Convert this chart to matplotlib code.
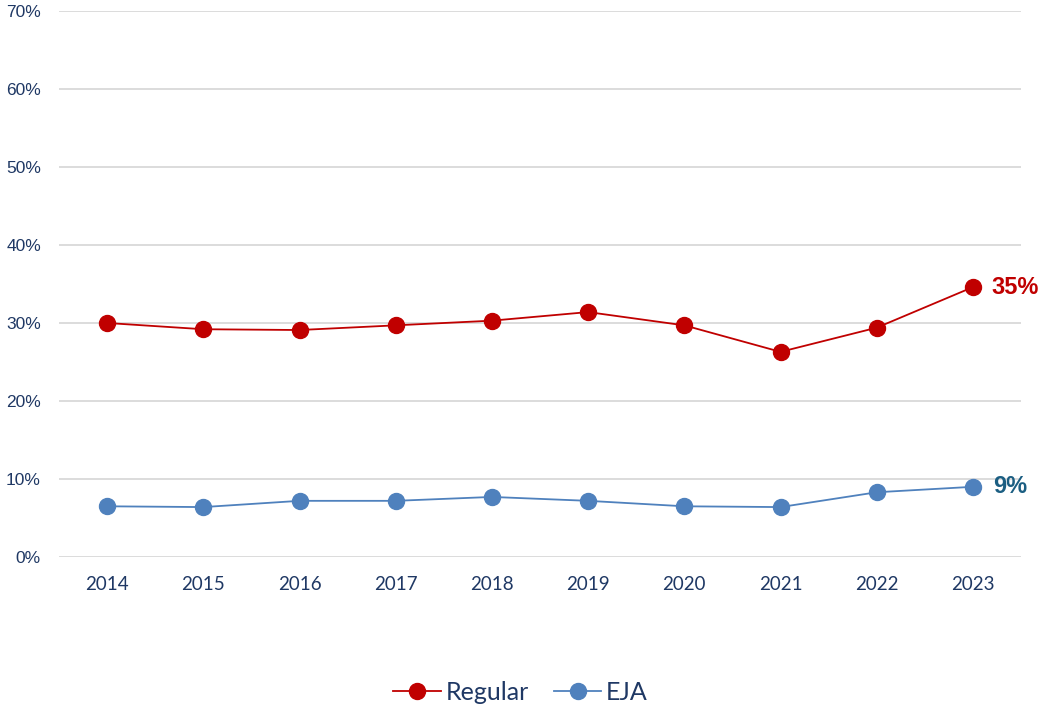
import matplotlib
matplotlib.use("Agg")
import matplotlib.pyplot as plt

years = ["2014", "2015", "2016", "2017", "2018", "2019", "2020", "2021", "2022", "2023"]
regular = [30.0, 29.2, 29.1, 29.7, 30.3, 31.4, 29.7, 26.3, 29.4, 34.6]
eja = [6.5, 6.4, 7.2, 7.2, 7.7, 7.2, 6.5, 6.4, 8.3, 9.0]
yticks = [0, 10, 20, 30, 40, 50, 60, 70]

red = "#C00000"
blue = "#4F81BD"
text_col = "#1F3864"

fig = plt.figure(figsize=(10.41, 7.1), dpi=100)
ax = fig.add_axes([0.0567, 0.2155, 0.9241, 0.769])

x = list(range(len(years)))
ax.plot(x, regular, color=red, lw=1.3, marker="o", ms=11.5, label="Regular", zorder=3)
ax.plot(x, eja, color=blue, lw=1.3, marker="o", ms=11.5, label="EJA", zorder=3)

ax.set_xlim(-0.5, len(years) - 0.5)
ax.set_ylim(0, 70)
ax.set_yticks(yticks)
ax.set_yticklabels([f"{v}%" for v in yticks], fontfamily="Liberation Sans", fontsize=12.5, color=text_col)
ax.set_xticks(x)
ax.set_xticklabels(years, fontfamily="Lato", fontsize=13.5, color=text_col)
ax.tick_params(length=0)
ax.tick_params(axis="y", pad=13)
ax.tick_params(axis="x", pad=14)

ax.grid(axis="y", color="#D9D9D9", lw=1.3)
ax.set_axisbelow(True)
for s in ax.spines.values():
    s.set_visible(False)

ax.annotate(f"{regular[-1]:.0f}%", (x[-1], regular[-1]), xytext=(13.5, 0), textcoords="offset points",
            va="center", ha="left", color=red, fontsize=17, fontweight="bold", fontfamily="Liberation Sans")
ax.annotate(f"{eja[-1]:.0f}%", (x[-1], eja[-1]), xytext=(14.5, 0), textcoords="offset points",
            va="center", ha="left", color="#1B5E82", fontsize=17, fontweight="bold", fontfamily="Liberation Sans")

leg = fig.legend(loc="center", bbox_to_anchor=(0.5, 0.025), ncol=2, frameon=False,
                 prop={"family": "Lato", "size": 18}, handlelength=1.9, handletextpad=0.2,
                 columnspacing=1.0)
for t in leg.get_texts():
    t.set_color(text_col)

fig.savefig("out.png", dpi=100)
